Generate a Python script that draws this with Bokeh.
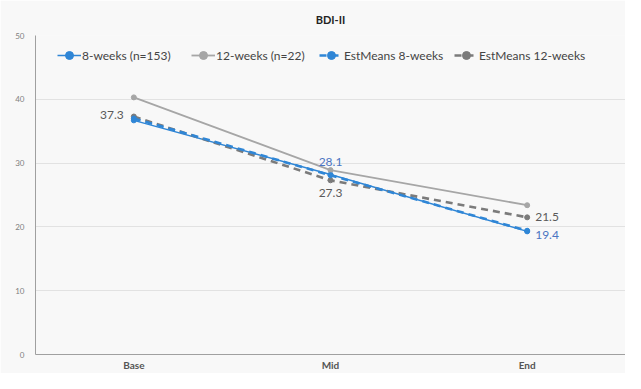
from bokeh.plotting import figure
from bokeh.models import FactorRange, Range1d, Legend, LegendItem, ColumnDataSource
from bokeh.embed import file_html
from bokeh.resources import INLINE
from bokeh.core.properties import value

categories = ["Base", "Mid", "End"]
obs8 = [36.7, 28.2, 19.3]
obs12 = [40.3, 28.9, 23.4]
est8 = [37.0, 28.1, 19.4]
est12 = [37.3, 27.3, 21.5]
yticks = [0, 10, 20, 30, 40, 50]
series_names = ["8-weeks (n=153)", "12-weeks (n=22)", "EstMeans 8-weeks", "EstMeans 12-weeks"]

FONT = "Lato"
BLUE = "#2f86d6"
LBLUE = "#4a74c2"
LGRAY = "#a6a6a6"
DGRAY = "#7b7b7b"
TGRAY = "#5a5a5a"
BG = "#f8f8f8"

p = figure(width=625, height=373, x_range=FactorRange(*categories, range_padding=0),
           y_range=Range1d(0, 50), output_backend="svg", toolbar_location=None,
           min_border_left=35, min_border_right=0, min_border_top=4, min_border_bottom=0)
p.background_fill_color = BG
p.border_fill_color = BG
p.outline_line_color = None

p.title.text = "BDI-II"
p.title.align = "center"
p.title.text_font = FONT
p.title.text_font_style = "bold"
p.title.text_font_size = "11px"
p.title.text_color = "#222222"
p.title.offset = 0
p.title.standoff = 20

p.yaxis.ticker = yticks
p.yaxis.major_tick_line_color = None
p.yaxis.minor_tick_line_color = None
p.yaxis.major_tick_out = 0
p.yaxis.major_tick_in = 0
p.yaxis.axis_line_color = "#a0a0a0"
p.yaxis.major_label_text_font = FONT
p.yaxis.major_label_text_font_size = "8px"
p.yaxis.major_label_text_color = "#808080"
p.yaxis.major_label_standoff = 11

p.xaxis.major_tick_line_color = None
p.xaxis.minor_tick_line_color = None
p.xaxis.major_tick_out = 0
p.xaxis.major_tick_in = 0
p.xaxis.axis_line_color = "#a0a0a0"
p.xaxis.major_label_text_font = FONT
p.xaxis.major_label_text_font_size = "10px"
p.xaxis.major_label_text_font_style = "bold"
p.xaxis.major_label_text_color = "#555555"
p.xaxis.major_label_standoff = 4

p.xgrid.grid_line_color = None
p.ygrid.grid_line_color = "#e2e2e2"
p.ygrid.ticker = yticks

l1 = p.line(categories, obs8, line_color=BLUE, line_width=1.5)
c1 = p.scatter(categories, obs8, size=5, fill_color=BLUE, line_color=BLUE)
l2 = p.line(categories, obs12, line_color=LGRAY, line_width=1.8)
c2 = p.scatter(categories, obs12, size=5, fill_color=LGRAY, line_color=LGRAY)
l4 = p.line(categories, est12, line_color=DGRAY, line_width=2.6, line_dash="7 5")
c4 = p.scatter(categories, est12, size=5, fill_color=DGRAY, line_color=DGRAY)
l3 = p.line(categories, est8, line_color=BLUE, line_width=2.6, line_dash="7 5")
c3 = p.scatter(categories, est8, size=5, fill_color=BLUE, line_color=BLUE)

renderers = [[l1, c1], [l2, c2], [l3, c3], [l4, c4]]
legend_x = [22, 156, 284, 419]
for name, rends, lx in zip(series_names, renderers, legend_x):
    lg = Legend(items=[LegendItem(label=name, renderers=rends)],
                orientation="horizontal", location=(lx, 289))
    lg.background_fill_alpha = 0
    lg.border_line_color = None
    lg.label_text_font = FONT
    lg.label_text_font_size = "12px"
    lg.label_text_color = "#444444"
    lg.glyph_width = 24
    lg.label_standoff = 1
    p.add_layout(lg, "center")

# data labels
def add_label(cat, val, align, baseline, dx, dy, color):
    src = ColumnDataSource(dict(x=[cat], y=[val], t=["%.1f" % val]))
    p.text(x="x", y="y", text="t", source=src, text_align=align, text_baseline=baseline,
           x_offset=dx, y_offset=dy, text_font=value(FONT), text_font_size="12px",
           text_color=color)

add_label(categories[0], est12[0], "right", "bottom", -10, 2, TGRAY)
add_label(categories[1], est12[1], "center", "top", 0, 9, TGRAY)
add_label(categories[2], est12[2], "left", "middle", 8, 0, TGRAY)
add_label(categories[1], est8[1], "center", "bottom", 0, -9, LBLUE)
add_label(categories[2], est8[2], "left", "top", 8, 0, LBLUE)

open("out.html", "w").write(file_html(p, INLINE))
